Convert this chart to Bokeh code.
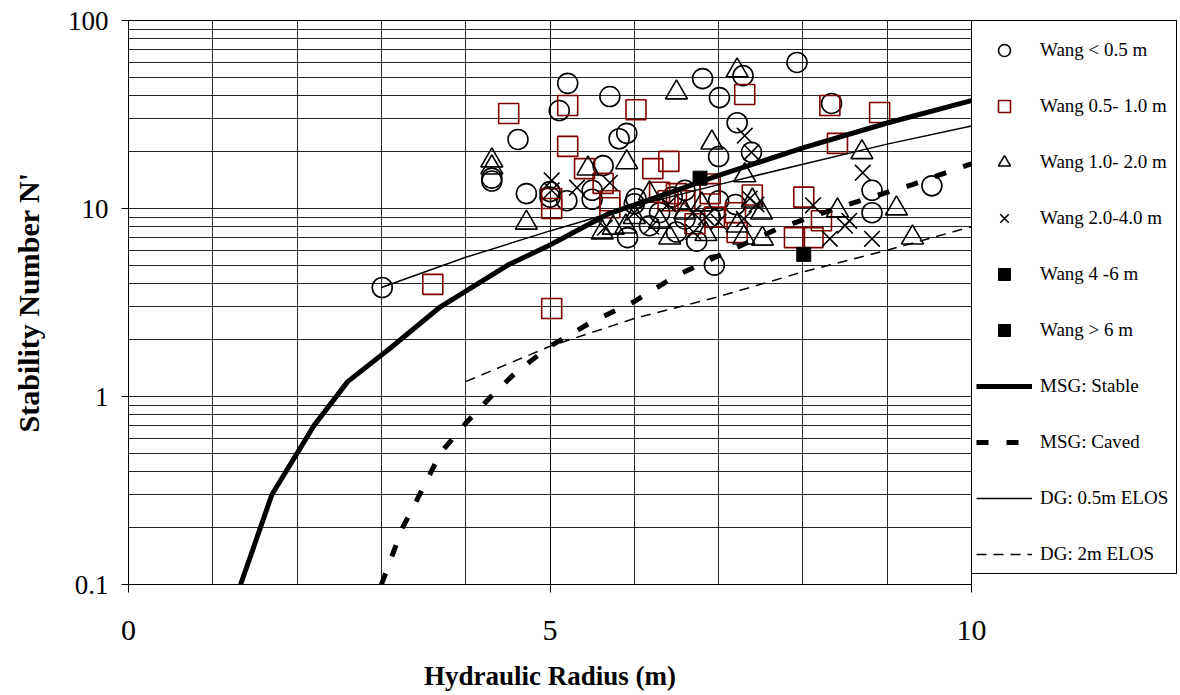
from bokeh.plotting import figure
from bokeh.models import Range1d, FixedTicker, Legend, LegendItem
from bokeh.embed import file_html
from bokeh.resources import INLINE

FONT = "Liberation Serif"

# ---- data ----
wang_lt05_x = [3.01, 4.31, 4.31, 4.62, 4.72, 5.0, 5.0, 5.11, 5.21, 5.2, 5.5, 5.63, 5.71, 5.82, 5.91,
               5.92, 6.02, 6.0, 6.18, 6.3, 6.45, 6.6, 6.6, 6.74, 6.81, 6.95, 7.0, 7.01, 7.22, 7.29,
               7.39, 7.0, 6.9, 7.93, 8.34, 8.82, 8.82, 9.53, 5.5, 6.5, 7.2]
wang_lt05_y = [3.8, 14.5, 14.0, 23.3, 12.0, 11.5, 12.3, 33.2, 46.3, 11.0, 11.2, 16.9, 39.4, 23.5, 25.1,
               7.0, 11.3, 10.6, 8.1, 9.5, 11.5, 12.5, 8.8, 6.7, 49.1, 5.0, 18.9, 38.9, 28.6, 50.9,
               19.9, 11.0, 9.0, 59.8, 36.2, 12.5, 9.5, 13.2, 12.5, 7.5, 10.5]

wang_05_10_x = [4.51, 5.21, 6.02, 5.21, 5.41, 6.22, 6.41, 7.31, 8.32, 8.91, 8.41, 3.61, 5.02, 5.02,
                5.02, 5.63, 5.71, 5.71, 6.3, 6.5, 6.6, 6.4, 6.72, 6.9, 6.9, 7.4, 7.2, 7.22, 6.95,
                8.01, 8.22, 7.9, 8.12]
wang_05_10_y = [32.0, 35.3, 33.5, 21.4, 16.3, 16.3, 17.8, 40.4, 35.3, 32.4, 22.2, 3.95, 2.94, 11.3,
                10.0, 13.6, 10.1, 11.0, 12.2, 12.0, 11.0, 11.0, 8.3, 13.5, 12.0, 11.8, 9.5, 7.45, 9.0,
                11.5, 8.6, 7.0, 7.0]

wang_10_20_x = [4.31, 4.31, 4.72, 5.45, 5.62, 5.75, 5.91, 6.0, 6.18, 6.42, 6.5, 6.6, 6.8, 6.92, 6.85,
                7.22, 7.31, 7.22, 7.51, 7.52, 7.3, 7.4, 8.41, 8.7, 9.11, 9.3, 5.9, 6.3]
wang_10_20_y = [18.0, 16.5, 8.4, 16.3, 7.45, 7.9, 17.6, 9.0, 12.0, 7.0, 41.4, 9.5, 10.5, 22.4, 7.3,
                54.2, 15.0, 8.1, 9.5, 6.9, 7.0, 11.0, 9.75, 19.9, 10.0, 7.0, 8.0, 8.5]

wang_20_40_x = [5.02, 5.02, 5.32, 5.71, 5.65, 6.2, 6.4, 6.7, 6.85, 6.7, 7.0, 7.37, 7.45, 7.31, 7.39,
                8.12, 8.32, 8.5, 8.55, 8.82, 8.71, 6.0, 7.3]
wang_20_40_y = [14.1, 12.5, 12.9, 13.7, 7.9, 8.0, 10.5, 9.5, 9.0, 7.5, 8.5, 11.3, 10.5, 24.4, 19.9,
                10.4, 6.9, 8.1, 8.6, 6.9, 15.5, 9.5, 8.8]

wang_4_6_x = [6.78]
wang_4_6_y = [14.5]
wang_gt6_x = [8.01]
wang_gt6_y = [5.7]

msg_stable_x = [1.33, 1.7, 2.2, 2.6, 3.1, 3.7, 4.15, 4.5, 5.0, 5.7, 6.5, 7.0, 8.0, 9.0, 10.0]
msg_stable_y = [0.1, 0.3, 0.7, 1.2, 1.8, 3.0, 4.0, 5.0, 6.4, 9.4, 12.5, 15.0, 21.0, 28.5, 37.5]

msg_caved_x = [3.0, 3.25, 3.5, 3.7, 4.0, 4.3, 4.6, 5.0, 5.5, 6.0, 6.5, 7.0, 7.7, 8.5, 9.3, 10.0]
msg_caved_y = [0.1, 0.2, 0.33, 0.5, 0.72, 1.0, 1.35, 1.85, 2.5, 3.2, 4.4, 5.6, 7.8, 10.4, 13.4, 17.3]

dg_05_x = [3.0, 4.0, 5.0, 6.0, 7.0, 8.0, 9.0, 10.0]
dg_05_y = [3.8, 5.5, 7.6, 10.3, 13.4, 17.2, 22.0, 27.5]

dg_2_x = [4.0, 5.0, 6.0, 7.0, 8.0, 9.0, 10.0]
dg_2_y = [1.2, 1.85, 2.6, 3.4, 4.6, 6.0, 8.0]

x_ticks = [0, 5, 10]
x_minor = list(range(0, 11))
y_ticks = [0.1, 1, 10, 100]
y_minor = [m * d for d in (0.1, 1, 10) for m in range(2, 10)]
y_labels = {0.1: "0.1", 1: "1", 10: "10", 100: "100"}

# ---- figure ----
p = figure(frame_width=843, frame_height=564, x_range=Range1d(0, 10), y_range=Range1d(0.1, 100),
           y_axis_type="log", output_backend="svg", toolbar_location=None,
           min_border_left=128, min_border_right=0, min_border_top=20, min_border_bottom=108)
p.background_fill_color = "white"
p.border_fill_color = "white"
p.outline_line_color = "black"
p.outline_line_width = 1

xt = FixedTicker(ticks=x_ticks, minor_ticks=x_minor)
yt = FixedTicker(ticks=y_ticks, minor_ticks=y_minor)
p.xaxis.ticker = xt
p.xgrid.ticker = xt
p.yaxis.ticker = yt
p.ygrid.ticker = yt
p.yaxis.major_label_overrides = y_labels

for g in (p.xgrid, p.ygrid):
    g.grid_line_color = "black"
    g.grid_line_alpha = 0.85
    g.minor_grid_line_color = "black"
    g.minor_grid_line_alpha = 0.85
    g.grid_line_width = 1
    g.minor_grid_line_width = 1

for ax in (p.xaxis, p.yaxis):
    ax.axis_line_color = "black"
    ax.major_tick_line_color = "black"
    ax.major_tick_in = 0
    ax.minor_tick_in = 0
    ax.minor_tick_out = 0
    ax.major_label_text_font = FONT
    ax.major_label_text_color = "black"
    ax.axis_label_text_font = FONT
    ax.axis_label_text_font_style = "bold"
    ax.axis_label_text_color = "black"

p.xaxis.major_label_text_font_size = "30px"
p.xaxis.axis_label_text_font_size = "27px"
p.yaxis.major_label_text_font_size = "27px"
p.yaxis.axis_label_text_font_size = "30px"

p.xaxis.major_tick_out = 8
p.xaxis.major_label_standoff = 28
p.xaxis.axis_label = "Hydraulic Radius (m)"
p.xaxis.axis_label_standoff = 18
p.yaxis.major_tick_out = 7
p.yaxis.major_label_standoff = 13
p.yaxis.axis_label = "Stability Number N'"
p.yaxis.axis_label_standoff = 20

DARKRED = "#800000"
r_c = p.scatter(wang_lt05_x, wang_lt05_y, marker="circle", size=20, fill_color=None,
                line_color="black", line_width=1.6)
r_s = p.scatter(wang_05_10_x, wang_05_10_y, marker="square", size=20, fill_color=None,
                line_color=DARKRED, line_width=1.6)
r_t = p.scatter(wang_10_20_x, wang_10_20_y, marker="triangle", size=22, fill_color=None,
                line_color="black", line_width=1.6)
r_x = p.scatter(wang_20_40_x, wang_20_40_y, marker="x", size=22,
                line_color="black", line_width=1.6)
r_f1 = p.scatter(wang_4_6_x, wang_4_6_y, marker="square", size=14, fill_color="black",
                 line_color="black")
r_f2 = p.scatter(wang_gt6_x, wang_gt6_y, marker="square", size=14, fill_color="black",
                 line_color="black")

r_ms = p.line(msg_stable_x, msg_stable_y, line_color="black", line_width=5)
r_mc = p.line(msg_caved_x, msg_caved_y, line_color="black", line_width=5, line_dash="12 18")
r_d05 = p.line(dg_05_x, dg_05_y, line_color="black", line_width=1.5)
r_d2 = p.line(dg_2_x, dg_2_y, line_color="black", line_width=1.5, line_dash="10 7")

items = [
    LegendItem(label="Wang < 0.5 m", renderers=[r_c]),
    LegendItem(label="Wang 0.5- 1.0 m", renderers=[r_s]),
    LegendItem(label="Wang 1.0- 2.0 m", renderers=[r_t]),
    LegendItem(label="Wang 2.0-4.0 m", renderers=[r_x]),
    LegendItem(label="Wang 4 -6 m", renderers=[r_f1]),
    LegendItem(label="Wang > 6 m", renderers=[r_f2]),
    LegendItem(label="MSG: Stable", renderers=[r_ms]),
    LegendItem(label="MSG: Caved", renderers=[r_mc]),
    LegendItem(label="DG: 0.5m ELOS", renderers=[r_d05]),
    LegendItem(label="DG: 2m ELOS", renderers=[r_d2]),
]
legend = Legend(items=items, location="top_left", orientation="vertical",
                glyph_width=56, glyph_height=30, label_height=30, spacing=26,
                padding=4, margin=0, label_standoff=8, label_width=132,
                label_text_font=FONT, label_text_font_size="19px", label_text_color="black",
                border_line_color="black", border_line_width=1, border_line_alpha=1,
                background_fill_color="white", background_fill_alpha=1,
                title=" ", title_text_font_size="4px", title_standoff=5)
p.add_layout(legend, "right")

open("out.html", "w").write(file_html(p, INLINE))
